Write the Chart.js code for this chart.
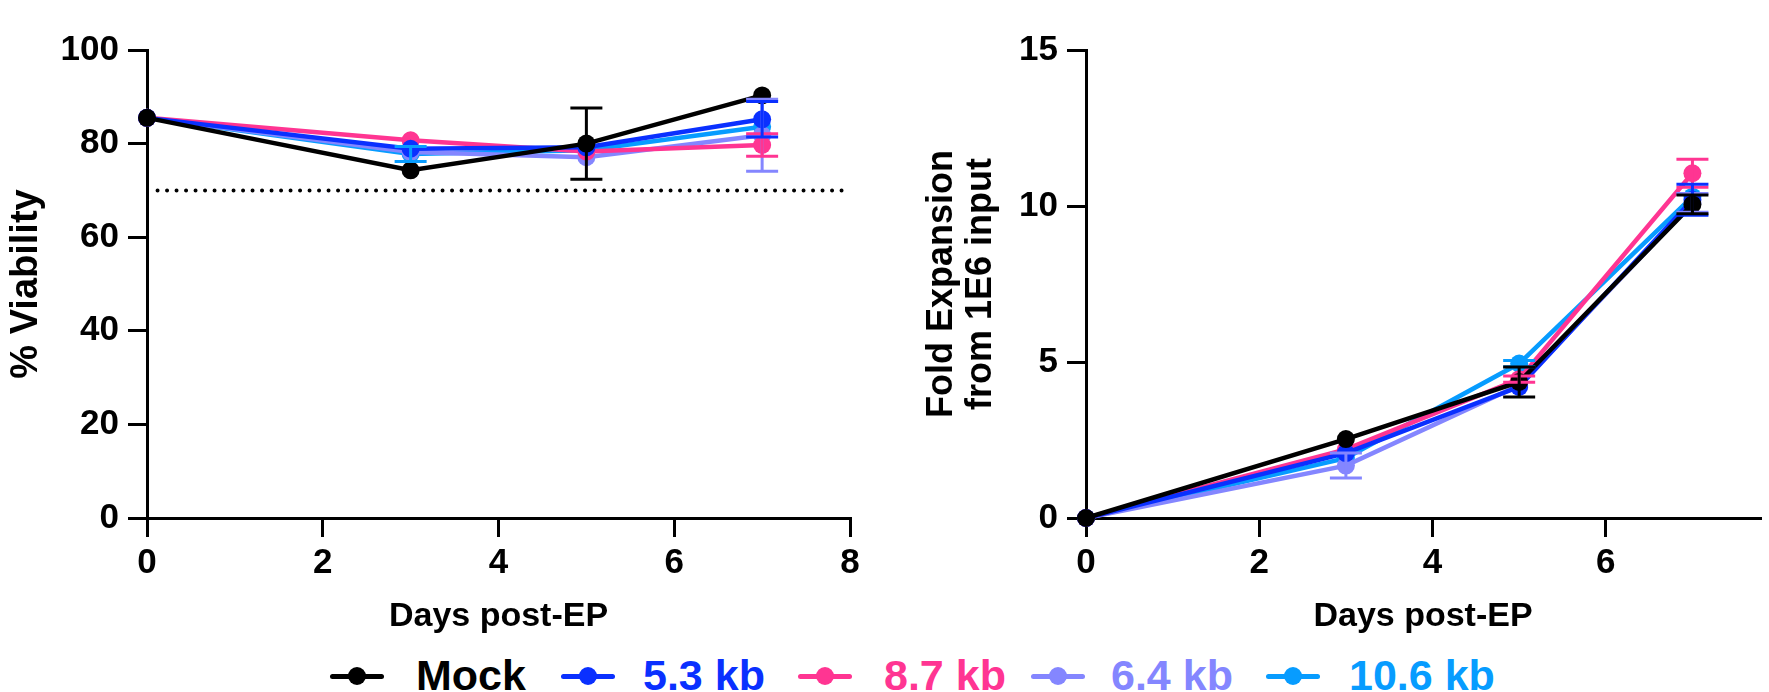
<!DOCTYPE html>
<html>
<head>
<meta charset="utf-8">
<script src="https://cdn.jsdelivr.net/npm/chart.js@4/dist/chart.umd.min.js"></script>
<style>
  body { margin: 0; background: #fff; width: 1769px; height: 692px; overflow: hidden; position: relative; font-family: "Liberation Sans", Arial, sans-serif; }
  #viability { position: absolute; left: 0; top: 0; }
  #expansion { position: absolute; left: 880px; top: 0; }
  .mk { position: absolute; top: 676px; width: 54px; height: 0; }
  .mk .ln { position: absolute; left: 0; top: -2.5px; width: 54px; height: 5px; border-radius: 3px; }
  .mk .dt { position: absolute; left: 18px; top: -9px; width: 18px; height: 18px; border-radius: 50%; }
  .lt { position: absolute; top: 676px; font-weight: bold; font-size: 43px; line-height: 44px; margin-top: -23px; white-space: nowrap; }
</style>
</head>
<body>
<canvas id="viability" width="880" height="645"></canvas>
<canvas id="expansion" width="889" height="645"></canvas>
<div id="legend"></div>
<script>
// days sampled
const days = [0, 3, 5, 7];
const seriesNames = ['Mock', '5.3 kb', '8.7 kb', '6.4 kb', '10.6 kb'];
const seriesColors = ['#000000', '#0a30ff', '#ff3592', '#8486ff', '#079cff'];

// % viability
const viabMock = [85.5, 74.3, 80.0, 90.3];
const viab53 = [85.5, 78.9, 79.2, 85.2];
const viab87 = [85.5, 80.7, 78.3, 79.7];
const viab64 = [85.5, 78.2, 77.1, 81.8];
const viab106 = [85.5, 77.8, 78.6, 83.6];
const viabErrMock = [0, 0, 7.6, 0];
const viabErr53 = [0, 0, 0, 3.8];
const viabErr87 = [0, 0, 0, 2.4];
const viabErr64 = [0, 0, 0, 7.7];
const viabErr106 = [0, 1.6, 0, 0];
const viabilityCutoff = 70;
const cutoffDays = [0.12, 7.95];

// fold expansion from 1E6 input
const foldMock = [0, 2.53, 4.36, 10.05];
const fold53 = [0, 2.08, 4.2, 10.2];
const fold87 = [0, 2.2, 4.45, 11.05];
const fold64 = [0, 1.68, 4.25, 10.1];
const fold106 = [0, 1.92, 4.95, 10.3];
const foldErrMock = [0, 0, 0.48, 0.3];
const foldErr53 = [0, 0, 0, 0.5];
const foldErr87 = [0, 0, 0.1, 0.45];
const foldErr64 = [0, 0.4, 0, 0.3];
const foldErr106 = [0, 0, 0.1, 0];

const viabSeries = [viabMock, viab53, viab87, viab64, viab106];
const viabErrs = [viabErrMock, viabErr53, viabErr87, viabErr64, viabErr106];
const foldSeries = [foldMock, fold53, fold87, fold64, fold106];
const foldErrs = [foldErrMock, foldErr53, foldErr87, foldErr64, foldErr106];

const tickFont = { family: 'Liberation Sans', size: 35, weight: 'bold' };
const titleFont = { family: 'Liberation Sans', size: 34, weight: 'bold' };

function makeSets(values, errs) {
  return values.map((vals, i) => ({
    label: seriesNames[i],
    data: days.map((d, j) => ({ x: d, y: vals[j] })),
    errors: errs[i],
    borderColor: seriesColors[i],
    backgroundColor: seriesColors[i],
    borderWidth: 4.5,
    pointRadius: 9,
    pointBorderWidth: 0,
    clip: false,
    tension: 0
  }));
}

// error bars, drawn through the y scale
const errorBars = {
  id: 'errorBars',
  afterDatasetsDraw(chart) {
    const ctx = chart.ctx;
    const ys = chart.scales.y;
    for (let i = chart.data.datasets.length - 1; i >= 0; i--) {
      const ds = chart.data.datasets[i];
      if (!ds.errors) continue;
      const meta = chart.getDatasetMeta(i);
      ctx.save();
      ctx.strokeStyle = ds.borderColor;
      ctx.lineWidth = 3;
      meta.data.forEach((pt, j) => {
        const e = ds.errors[j];
        if (!e) return;
        const v = ds.data[j].y;
        const top = ys.getPixelForValue(v + e);
        const bot = ys.getPixelForValue(v - e);
        ctx.beginPath();
        ctx.moveTo(pt.x, top); ctx.lineTo(pt.x, bot);
        ctx.moveTo(pt.x - 16, top); ctx.lineTo(pt.x + 16, top);
        ctx.moveTo(pt.x - 16, bot); ctx.lineTo(pt.x + 16, bot);
        ctx.stroke();
      });
      ctx.restore();
    }
  }
};

function axis(extra) {
  return Object.assign({
    type: 'linear',
    grid: { display: true, drawOnChartArea: false, drawTicks: true, tickLength: 19, color: '#000', lineWidth: 3 },
    border: { display: true, color: '#000', width: 3 }
  }, extra);
}

function makeChart(id, sets, opts) {
  return new Chart(document.getElementById(id), {
    type: 'line',
    data: { datasets: sets },
    plugins: [errorBars],
    options: {
      responsive: false,
      animation: false,
      layout: { padding: { top: 50, right: opts.padRight, left: 0, bottom: 0 } },
      plugins: { legend: { display: false }, tooltip: { enabled: false } },
      scales: {
        x: axis({
          min: 0, max: opts.xMax,
          afterBuildTicks: s => { s.ticks = s.ticks.filter(t => t.value % 2 === 0); },
          afterFit: s => { s.height = 127; },
          ticks: { color: '#000', font: tickFont, padding: 5, stepSize: 2, maxRotation: 0 },
          title: { display: true, text: 'Days post-EP', color: '#000', font: titleFont, padding: { top: 0, bottom: 8 } }
        }),
        y: axis({
          min: 0, max: opts.yMax,
          afterFit: s => { s.width = opts.yWidth; },
          ticks: { color: '#000', font: tickFont, padding: 9, stepSize: opts.yStep },
          title: { display: true, text: opts.yTitle, color: '#000', font: { family: 'Liberation Sans', size: opts.yTitleSize, weight: 'bold', lineHeight: 1.08 }, padding: { top: opts.yTitlePad, bottom: 0 } }
        })
      }
    }
  });
}

const viabSets = makeSets(viabSeries, viabErrs);
viabSets.push({
  label: 'cutoff',
  data: cutoffDays.map(d => ({ x: d, y: viabilityCutoff })),
  borderColor: '#000',
  borderWidth: 4,
  borderDash: [0, 9.5],
  borderCapStyle: 'round',
  pointRadius: 0
});

makeChart('viability', viabSets, { xMax: 8, yMax: 100, yStep: 20, yWidth: 147, padRight: 30, yTitle: '% Viability', yTitleSize: 38, yTitlePad: 6 });
makeChart('expansion', makeSets(foldSeries, foldErrs), { xMax: 7.78, yMax: 15, yStep: 5, yWidth: 206, padRight: 0, yTitle: ['Fold Expansion', 'from 1E6 input'], yTitleSize: 36, yTitlePad: 43 });

// legend under both panels
const markerLeft = [330, 561, 798, 1031, 1266];
const textLeft = [416, 643, 884, 1111, 1349];
const legend = document.getElementById('legend');
seriesNames.forEach((name, i) => {
  const mk = document.createElement('div');
  mk.className = 'mk';
  mk.style.left = markerLeft[i] + 'px';
  mk.innerHTML = '<div class="ln" style="background:' + seriesColors[i] + '"></div><div class="dt" style="background:' + seriesColors[i] + '"></div>';
  legend.appendChild(mk);
  const t = document.createElement('div');
  t.className = 'lt';
  t.style.left = textLeft[i] + 'px';
  t.style.color = seriesColors[i];
  t.textContent = name;
  legend.appendChild(t);
});
</script>
</body>
</html>
